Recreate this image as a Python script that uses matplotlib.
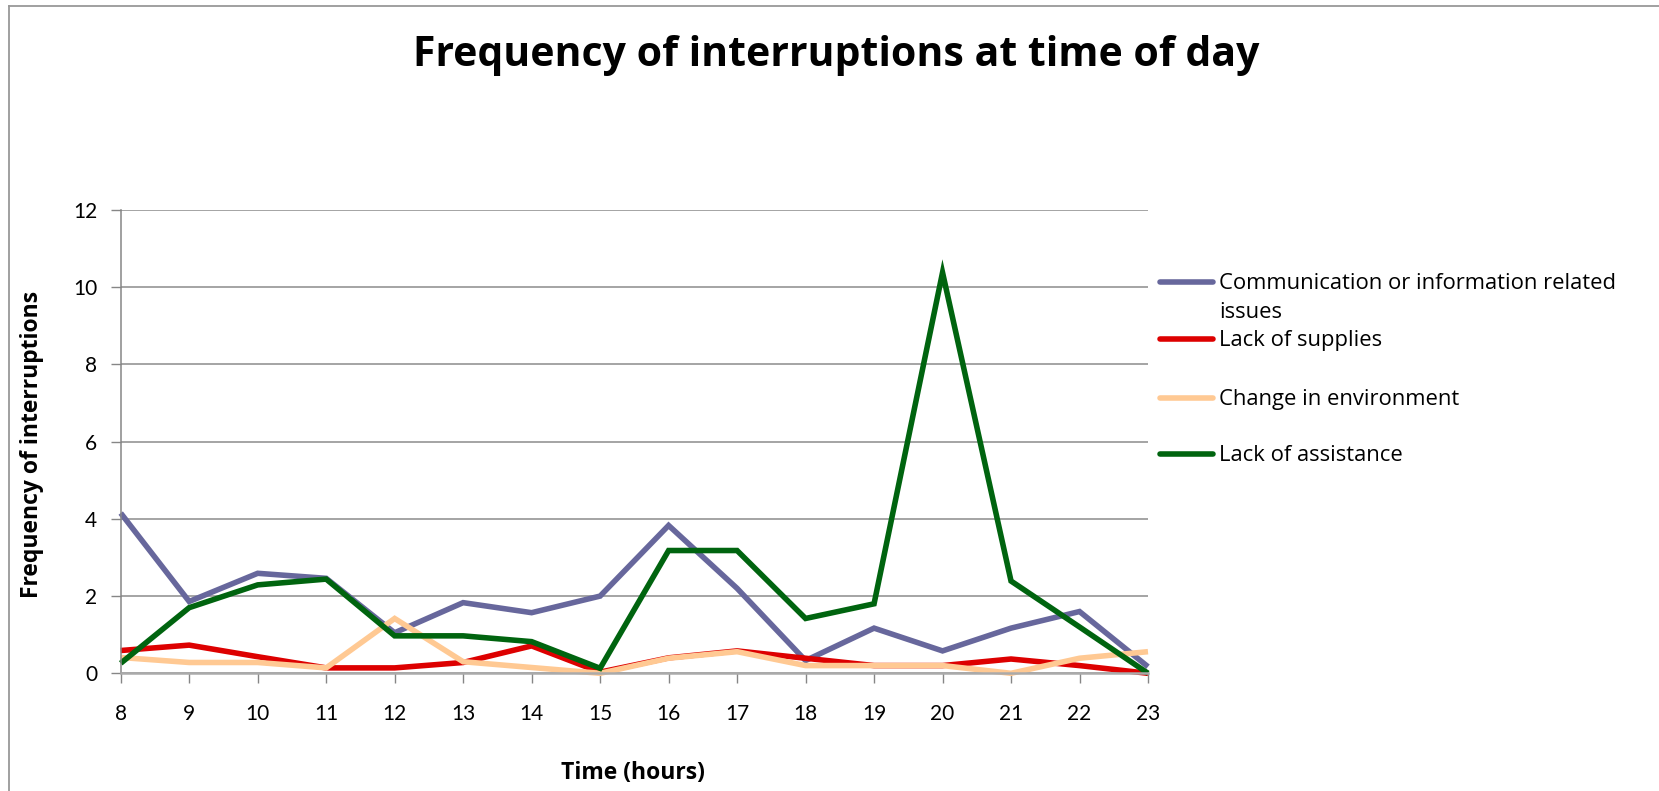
import matplotlib
matplotlib.use("Agg")
import matplotlib.pyplot as plt
from matplotlib.lines import Line2D

hours = [8, 9, 10, 11, 12, 13, 14, 15, 16, 17, 18, 19, 20, 21, 22, 23]
communication = [4.15, 1.86, 2.59, 2.46, 1.05, 1.83, 1.57, 2.0, 3.83, 2.2, 0.33, 1.17, 0.58, 1.17, 1.6, 0.17]
supplies = [0.59, 0.73, 0.43, 0.14, 0.14, 0.28, 0.71, 0.03, 0.4, 0.58, 0.39, 0.2, 0.2, 0.37, 0.2, 0.0]
environment = [0.41, 0.28, 0.28, 0.14, 1.42, 0.3, 0.15, 0.0, 0.39, 0.56, 0.2, 0.2, 0.2, 0.0, 0.39, 0.56]
assistance = [0.26, 1.7, 2.29, 2.44, 0.97, 0.97, 0.82, 0.13, 3.18, 3.18, 1.42, 1.8, 10.38, 2.39, 1.2, 0.0]

series_labels = ["Communication or information related\nissues", "Lack of supplies",
                 "Change in environment", "Lack of assistance"]
colors = ["#67679C", "#DD0000", "#FFC993", "#00640F"]
y_ticks = [0, 2, 4, 6, 8, 10, 12]

title = "Frequency of interruptions at time of day"
xlabel = "Time (hours)"
ylabel = "Frequency of interruptions"

W, H = 1659, 791
plt.rcParams['font.family'] = ['Lato', 'DejaVu Sans']
wide = ['Open Sans', 'DejaVu Sans']
fig = plt.figure(figsize=(W / 100, H / 100), dpi=100)
ax = fig.add_axes([120.7 / W, 1 - 673.3 / H, (1148 - 120.7) / W, (673.3 - 210) / H])

for vals, c in zip([communication, supplies, environment, assistance], colors):
    ax.plot(hours, vals, color=c, lw=4.0, solid_joinstyle='miter', solid_capstyle='butt', clip_on=False)

ax.set_xlim(8, 23)
ax.set_ylim(0, 12)
ax.set_xticks(hours)
ax.set_yticks(y_ticks)
ax.tick_params(axis='both', direction='out', length=7, width=1, color='#868686', labelsize=15)
ax.tick_params(axis='x', pad=15)
ax.tick_params(axis='y', pad=10)
ax.yaxis.grid(True, color='#8C8C8C', lw=1.1)
ax.set_axisbelow(True)
for s in ['top', 'right']:
    ax.spines[s].set_visible(False)
for s in ['left', 'bottom']:
    ax.spines[s].set_color('#868686')
    ax.spines[s].set_linewidth(1.1)
ax.spines['bottom'].set_color('#AAAAAA')
ax.spines['bottom'].set_linewidth(1.8)

fig.text(836 / W, 1 - 55 / H, title, ha='center', va='center', fontsize=29.5, fontweight='bold', family=wide)
fig.text(633 / W, 1 - 773 / H, xlabel, ha='center', va='center', fontsize=16.5, fontweight='bold', family=wide)
fig.text(32 / W, 1 - 444 / H, ylabel, ha='center', va='center', fontsize=16.5, fontweight='bold',
         rotation=90, family=wide)

# legend
rows = [282, 339, 398, 454]
for lab, c, y in zip(series_labels, colors, rows):
    fig.add_artist(Line2D([1160 / W, 1213 / W], [1 - y / H, 1 - y / H], color=c, lw=4.0,
                          solid_capstyle='round'))
    fig.text(1219 / W, 1 - (y - 9) / H, lab, ha='left', va='top', fontsize=15.8, linespacing=1.5,
             family=wide)

# chart frame
fig.add_artist(Line2D([9 / W, 9 / W], [0, 1 - 6 / H], color='#999999', lw=1.3))
fig.add_artist(Line2D([9 / W, 1], [1 - 6 / H, 1 - 6 / H], color='#999999', lw=1.3))

fig.savefig("out.png", dpi=100)
